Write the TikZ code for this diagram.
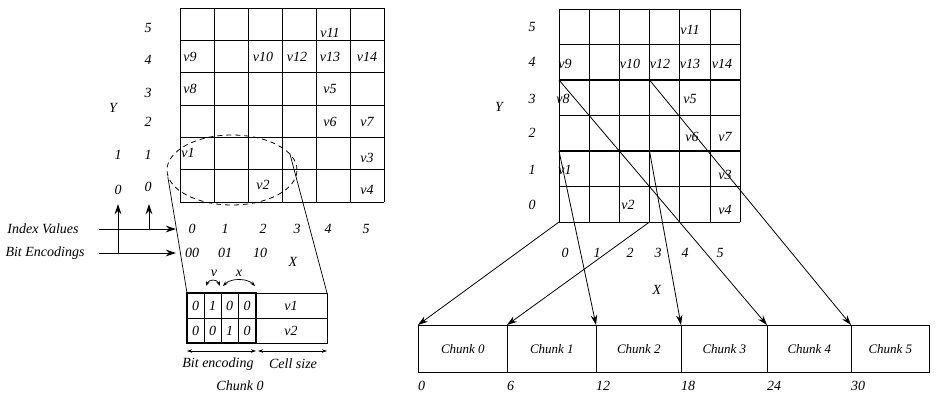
\documentclass[tikz,border=0pt]{standalone}
\usepackage{fontspec}
\setmainfont{Liberation Serif}
\usetikzlibrary{arrows.meta,shapes.geometric}
\tikzset{
  lbl/.style={font=\fontsize{14}{16}\selectfont\itshape,inner sep=1pt},
  chk/.style={font=\fontsize{13}{15}\selectfont\itshape,inner sep=1pt},
  thin grid/.style={line width=0.7pt},
  heavy/.style={line width=1.4pt},
  ptr/.style={-{Stealth[length=10pt,width=6.5pt]},line width=0.8pt},
  dbl/.style={{Stealth[length=5pt,width=3.5pt]}-{Stealth[length=5pt,width=3.5pt]},line width=0.7pt},
}

\begin{document}
\begin{tikzpicture}[x=1pt,y=-1pt]
  \useasboundingbox (0,0) rectangle (939,393);

  % left grid
  \foreach \i in {0,...,6}
    \draw[thin grid] (180+34*\i,8) -- (180+34*\i,202);
  \foreach \j in {0,...,6}
    \draw[thin grid] (180,8+32.33*\j) -- (384,8+32.33*\j);
  \draw[heavy] (180,72.7) -- (384,72.7);

  \foreach \r/\y in {5/28,4/60,3/93,2/122,1/155,0/187}
    \node[lbl] (lrow\r) at (148,\y) {\r};
  \node[lbl] (ly) at (113,108) {Y};
  \node[lbl] (lyone) at (118,155) {1};
  \node[lbl] (lyzero) at (118,190) {0};

  \node[lbl] (lv9) at (190,57) {v9};
  \node[lbl] (lv10) at (263,57) {v10};
  \node[lbl] (lv12) at (297,57) {v12};
  \node[lbl] (lv13) at (330,57) {v13};
  \node[lbl] (lv14) at (367,57) {v14};
  \node[lbl] (lv11) at (330,33) {v11};
  \node[lbl] (lv8) at (190,89) {v8};
  \node[lbl] (lv5) at (330,89) {v5};
  \node[lbl] (lv6) at (330,122) {v6};
  \node[lbl] (lv7) at (367,122) {v7};
  \node[lbl] (lv1) at (188,153) {v1};
  \node[lbl] (lv3) at (367,158) {v3};
  \node[lbl] (lv2) at (263,185) {v2};
  \node[lbl] (lv4) at (367,190) {v4};

  % axis labels
  \foreach \c/\x in {0/192,1/225,2/263,3/297,4/328,5/366}
    \node[lbl] (lx\c) at (\x,229) {\c};
  \node[lbl] (lb0) at (192,253) {00};
  \node[lbl] (lb1) at (225,253) {01};
  \node[lbl] (lb2) at (260,253) {10};
  \node[lbl] (lx) at (293,262) {X};

  \node[lbl] (idx) at (43,229) {Index Values};
  \node[lbl] (bits) at (45,253) {Bit Encodings};
  \coordinate (idxfrom) at (99,229);
  \coordinate (idxto) at (176,229);
  \coordinate (bitsfrom) at (99,253);
  \coordinate (bitsto) at (176,253);
  \coordinate (upfoot) at (118,253);
  \coordinate (uphead) at (118,204);
  \coordinate (upfoot2) at (149,229);
  \coordinate (uphead2) at (149,204);
  \draw[ptr] (idxfrom) -- (idxto);
  \draw[ptr] (bitsfrom) -- (bitsto);
  \draw[ptr] (upfoot) -- (uphead);
  \draw[ptr] (upfoot2) -- (uphead2);

  % zoomed chunk
  \node[draw,line width=0.8pt,dash pattern=on 5pt off 4pt,ellipse,minimum width=130pt,
        minimum height=70pt,inner sep=0pt] (ring) at (232,170) {};
  \coordinate (tabnw) at (187,293);
  \coordinate (tabne) at (327,293);
  \draw[thin grid] (ring.186) -- (tabnw);
  \draw[thin grid] (ring.16) -- (tabne);

  \draw[thin grid] (187,293) rectangle (327,343);
  \draw[thin grid] (187,318) -- (327,318);
  \foreach \x in {204,221,238}
    \draw[thin grid] (\x,293) -- (\x,343);
  \draw[heavy] (187,293) rectangle (256,343);
  \foreach \b/\x [count=\k] in {0/195.5,1/212.5,0/229.5,0/247}
    \node[lbl] (bita\k) at (\x,305.5) {\b};
  \foreach \b/\x [count=\k] in {0/195.5,0/212.5,1/229.5,0/247}
    \node[lbl] (bitb\k) at (\x,330.5) {\b};
  \node[lbl] (tv1) at (291,305.5) {v1};
  \node[lbl] (tv2) at (291,330.5) {v2};

  \coordinate (va) at (206,286);
  \coordinate (vb) at (220,286);
  \coordinate (xa) at (223,286);
  \coordinate (xb) at (255,286);
  \draw[dbl] (va) .. controls (209,279) and (217,279) .. (vb);
  \draw[dbl] (xa) .. controls (231,278) and (247,278) .. (xb);
  \node[lbl] (vlbl) at (214,273) {v};
  \node[lbl] (xlbl) at (239,273) {x};

  \coordinate (be0) at (187,351);
  \coordinate (be1) at (256,351);
  \coordinate (csz0) at (258,351);
  \coordinate (csz1) at (327,351);
  \draw[dbl] (be0) -- (be1);
  \draw[dbl] (csz0) -- (csz1);
  \node[lbl] (belbl) at (218,364) {Bit encoding};
  \node[lbl] (cslbl) at (293,364) {Cell size};
  \node[lbl] (chunkname) at (240,386) {Chunk 0};

  % right grid
  \foreach \i in {0,...,6}
    \draw[thin grid] (559+30.17*\i,9) -- (559+30.17*\i,222);
  \foreach \j in {0,...,6}
    \draw[thin grid] (559,9+35.5*\j) -- (740,9+35.5*\j);
  \draw[heavy] (649.5,9) -- (649.5,222);
  \draw[heavy] (559,80) -- (740,80);
  \draw[heavy] (559,151) -- (740,151);

  \foreach \r/\y in {5/27,4/62,3/99,2/133,1/170,0/205}
    \node[lbl] (rrow\r) at (532,\y) {\r};
  \node[lbl] (ry) at (499,107) {Y};

  \node[lbl] (rv9) at (565,64) {v9};
  \node[lbl] (rv10) at (630,64) {v10};
  \node[lbl] (rv12) at (660,64) {v12};
  \node[lbl] (rv13) at (690,64) {v13};
  \node[lbl] (rv14) at (722,64) {v14};
  \node[lbl] (rv11) at (690,30) {v11};
  \node[lbl] (rv8) at (563,99) {v8};
  \node[lbl] (rv5) at (690,99) {v5};
  \node[lbl] (rv6) at (692,137) {v6};
  \node[lbl] (rv7) at (725,137) {v7};
  \node[lbl] (rv1) at (565,170) {v1};
  \node[lbl] (rv3) at (725,175) {v3};
  \node[lbl] (rv2) at (628,205) {v2};
  \node[lbl] (rv4) at (725,210) {v4};

  \foreach \c/\x in {0/565,1/597,2/630,3/658,4/685,5/720}
    \node[lbl] (rx\c) at (\x,253) {\c};
  \node[lbl] (rx) at (657,290) {X};

  % chunk bar
  \foreach \k/\x/\w in {0/418/89,1/507/89,2/596/85,3/681/86,4/767/84,5/851/78}
    \node[draw,thin grid,chk,anchor=north west,minimum width=\w pt,
          minimum height=47pt,inner sep=0pt] (chunk\k) at (\x,325) {Chunk \k};
  \foreach \k/\v in {0/0,1/6,2/12,3/18,4/24,5/30}
    \node[lbl,anchor=north west,inner sep=0pt] (tick\k)
      at ([yshift=-8pt]chunk\k.south west) {\v};

  \coordinate (cs0) at (559,222);
  \coordinate (cs1) at (649.5,222);
  \coordinate (cs2) at (559,151);
  \coordinate (cs3) at (649.5,151);
  \coordinate (cs4) at (559,80);
  \coordinate (cs5) at (649.5,80);
  \foreach \k in {0,...,5}
    \draw[ptr] (cs\k) -- (chunk\k.north west);
\end{tikzpicture}
\end{document}
